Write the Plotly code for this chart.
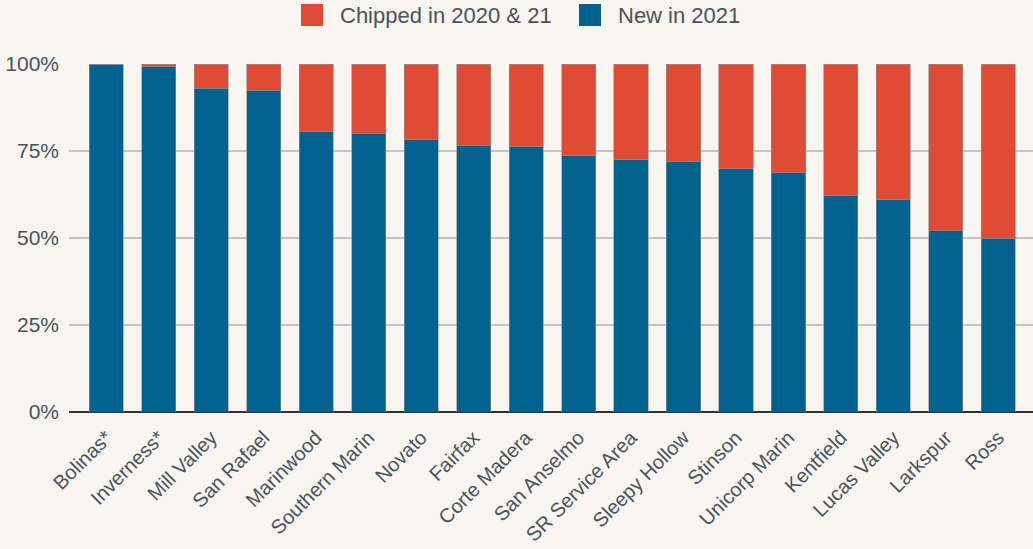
import plotly.graph_objects as go

# Service areas, ordered by share of new sign-ups
areas = [
    "Bolinas*", "Inverness*", "Mill Valley", "San Rafael", "Marinwood",
    "Southern Marin", "Novato", "Fairfax", "Corte Madera", "San Anselmo",
    "SR Service Area", "Sleepy Hollow", "Stinson", "Unicorp Marin",
    "Kentfield", "Lucas Valley", "Larkspur", "Ross",
]

# Percent of participants new in 2021
new_2021 = [100.0, 99.2, 93.0, 92.4, 80.5, 79.9, 78.3, 76.7, 76.2, 73.6,
            72.5, 72.1, 69.9, 68.8, 62.1, 61.0, 52.1, 50.0]

# Percent of participants that also chipped in 2020
chipped_2020_21 = [round(100 - v, 1) for v in new_2021]

y_ticks = [0, 25, 50, 75, 100]
y_tick_labels = ["0%", "25%", "50%", "75%", "100%"]

BG = "#f9f5f0"
BLUE = "#016290"
RED = "#e04b36"
TEXT = "#46545c"
EDGE = "#8a8f94"
FONT = "Liberation Sans, Arial, sans-serif"

W, H = 1033, 549
M_L, M_R, M_T, M_B = 69, 0, 64, 137


def px_to_paper_x(px):
    return (px - M_L) / (W - M_L - M_R)


def px_to_paper_y(py):
    return (H - M_B - py) / (H - M_T - M_B)


fig = go.Figure()
fig.add_trace(go.Bar(
    x=areas, y=new_2021, name="New in 2021",
    marker=dict(color=BLUE, line=dict(color=EDGE, width=0.6)),
    width=0.65,
))
fig.add_trace(go.Bar(
    x=areas, y=chipped_2020_21, name="Chipped in 2020 & 21",
    marker=dict(color=RED, line=dict(color=EDGE, width=0.6)),
    width=0.65,
))

# Legend row across the top: swatch + label for each series
legend_items = [
    ("Chipped in 2020 & 21", RED, 301, 338),
    ("New in 2021", BLUE, 579, 616),
]
for label, color, sq_left, txt_left in legend_items:
    fig.add_shape(
        type="rect", xref="paper", yref="paper",
        x0=px_to_paper_x(sq_left), x1=px_to_paper_x(sq_left + 22),
        y0=px_to_paper_y(26), y1=px_to_paper_y(4),
        fillcolor=color, line=dict(width=0),
    )
    fig.add_annotation(
        text=label, xref="paper", yref="paper",
        x=px_to_paper_x(txt_left), y=px_to_paper_y(15),
        xanchor="left", yanchor="middle", showarrow=False,
        font=dict(size=22, color=TEXT, family=FONT),
    )

fig.update_layout(
    barmode="stack",
    width=W, height=H,
    paper_bgcolor=BG, plot_bgcolor=BG,
    margin=dict(l=M_L, r=M_R, t=M_T, b=M_B),
    font=dict(family=FONT, color=TEXT, size=20),
    showlegend=False,
)

fig.update_xaxes(
    type="category", range=[-0.71, 17.66], tickangle=-45, automargin=False,
    showgrid=False, showline=False, ticks="", ticklabelstandoff=9,
    tickfont=dict(size=20, color=TEXT, family=FONT),
)
fig.update_yaxes(
    range=[0, 100], tickvals=y_ticks, ticktext=y_tick_labels, automargin=False,
    showgrid=True, gridcolor="#c4c4c4", gridwidth=2,
    zeroline=True, zerolinecolor="#333333", zerolinewidth=2,
    showline=False, ticks="", ticklabelstandoff=9,
    tickfont=dict(size=21, color=TEXT, family=FONT),
)

fig.write_html("out.html")
